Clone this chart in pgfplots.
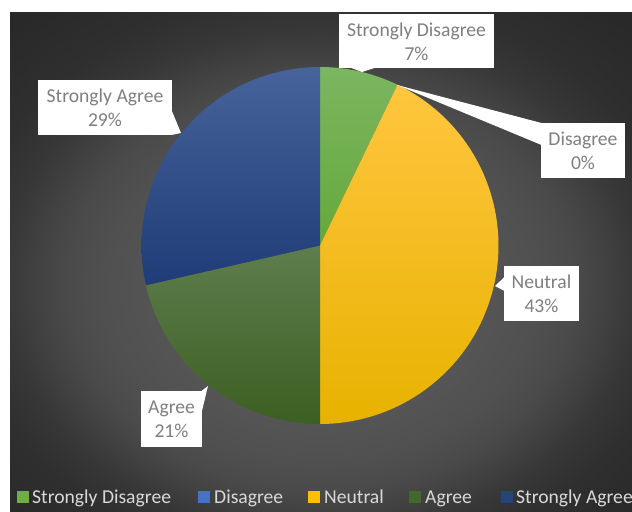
\documentclass[border=0pt]{standalone}
\usepackage{pgfplots}
\pgfplotsset{compat=1.18}
\usepackage{pgfplotstable}
\usepackage{fontspec}
\setmainfont{Carlito}

\definecolor{bgA}{HTML}{5A5A5A}
\definecolor{bgB}{HTML}{565656}
\definecolor{bgC}{HTML}{505050}
\definecolor{bgD}{HTML}{4A4A4A}
\definecolor{bgE}{HTML}{414141}
\definecolor{bgF}{HTML}{373737}
\definecolor{bgG}{HTML}{2F2F2F}
\definecolor{bgH}{HTML}{292929}
\pgfdeclareradialshading{bgshade}{\pgfpoint{0bp}{-4bp}}{color(0bp)=(bgA); color(12bp)=(bgB); color(17.5bp)=(bgC); color(20.5bp)=(bgD); color(23bp)=(bgE); color(25.5bp)=(bgF); color(29bp)=(bgG); color(35bp)=(bgH); color(50bp)=(bgH)}

\definecolor{sdT}{HTML}{7BB660}
\definecolor{sdM}{HTML}{70AD47}
\definecolor{sdB}{HTML}{66A83A}
\definecolor{nuT}{HTML}{FFC63F}
\definecolor{nuM}{HTML}{FFC000}
\definecolor{nuB}{HTML}{E8B200}
\definecolor{agT}{HTML}{5E7E4D}
\definecolor{agM}{HTML}{4A6E33}
\definecolor{agB}{HTML}{3C5F22}
\definecolor{saT}{HTML}{46639B}
\definecolor{saM}{HTML}{2B4A85}
\definecolor{saB}{HTML}{1F3C78}

\definecolor{legSD}{HTML}{70AD47}
\definecolor{legDi}{HTML}{4472C4}
\definecolor{legNe}{HTML}{FFC000}
\definecolor{legAg}{HTML}{43682B}
\definecolor{legSA}{HTML}{264478}
\definecolor{labgray}{HTML}{7F7F7F}
\definecolor{legtext}{HTML}{D9D9D9}

\pgfplotstableread{
label share
SD 7.142857
Dis 0
Neu 42.857143
Agr 21.428571
SAg 28.571429
}\piedata

\begin{document}
\begin{tikzpicture}
\useasboundingbox (0,0) rectangle (632bp,512bp);
\fill[white] (0,0) rectangle (632bp,512bp);
\path[shading=bgshade] (10bp,0bp) rectangle (632bp,499bp);
\pgfmathsetmacro\aA{90}
\pgfplotstablegetelem{0}{share}\of\piedata
\pgfmathsetmacro\aB{\aA-3.6*\pgfplotsretval}
\pgfplotstablegetelem{1}{share}\of\piedata
\pgfmathsetmacro\aC{\aB-3.6*\pgfplotsretval}
\pgfplotstablegetelem{2}{share}\of\piedata
\pgfmathsetmacro\aD{\aC-3.6*\pgfplotsretval}
\pgfplotstablegetelem{3}{share}\of\piedata
\pgfmathsetmacro\aE{\aD-3.6*\pgfplotsretval}
\pgfplotstablegetelem{4}{share}\of\piedata
\pgfmathsetmacro\aF{\aE-3.6*\pgfplotsretval}
\begin{axis}[x=1bp, y=1bp, xmin=0, xmax=632, ymin=0, ymax=512,
  scale only axis, hide axis, clip=false, at={(0,0)}, anchor=south west]
% slices
\addplot[draw=none, top color=sdT, middle color=sdM, bottom color=sdB,
  domain=\aB:\aA, samples=40, variable=\t]
  ({320+178.5*cos(\t)},{266.5+178.5*sin(\t)}) -- (axis cs:320,266.5) -- cycle;
\addplot[draw=none, top color=nuT, middle color=nuM, bottom color=nuB,
  domain=\aD:\aC, samples=100, variable=\t]
  ({320+178.5*cos(\t)},{266.5+178.5*sin(\t)}) -- (axis cs:320,266.5) -- cycle;
\addplot[draw=none, top color=agT, middle color=agM, bottom color=agB,
  domain=\aE:\aD, samples=60, variable=\t]
  ({320+178.5*cos(\t)},{266.5+178.5*sin(\t)}) -- (axis cs:320,266.5) -- cycle;
\addplot[draw=none, top color=saT, middle color=saM, bottom color=saB,
  domain=\aF:\aE, samples=70, variable=\t]
  ({320+178.5*cos(\t)},{266.5+178.5*sin(\t)}) -- (axis cs:320,266.5) -- cycle;
% data labels
\tikzset{lab/.style={text=labgray, align=center, inner sep=0pt, font=\fontsize{19.7}{24.5}\selectfont}}
\fill[white] (axis cs:339,444) rectangle (axis cs:494,498);
\fill[white] (axis cs:350,444.5) -- (axis cs:376,444.5) -- (axis cs:362,440) -- cycle;
\node[lab] at (axis cs:416.5,470) {Strongly Disagree\\7\%};
\fill[white] (axis cs:541,334) rectangle (axis cs:625,389);
\fill[white] (axis cs:397,427) -- (axis cs:541.5,389) -- (axis cs:541.5,367) -- cycle;
\node[lab] at (axis cs:583,361) {Disagree\\0\%};
\fill[white] (axis cs:504,191) rectangle (axis cs:579,246);
\fill[white] (axis cs:495,226) -- (axis cs:504.5,235) -- (axis cs:504.5,221) -- cycle;
\node[lab] at (axis cs:541.5,218) {Neutral\\43\%};
\fill[white] (axis cs:141,65) rectangle (axis cs:202,121);
\fill[white] (axis cs:201.5,121) -- (axis cs:201.5,99) -- (axis cs:208,126) -- cycle;
\node[lab] at (axis cs:171.5,92.5) {Agree\\21\%};
\fill[white] (axis cs:38,377) rectangle (axis cs:172,432);
\fill[white] (axis cs:171.5,402) -- (axis cs:171.5,377) -- (axis cs:181,379) -- cycle;
\node[lab] at (axis cs:105,404) {Strongly Agree\\29\%};
% legend
\tikzset{leg/.style={text=legtext, anchor=base west, inner sep=0pt, font=\fontsize{19.7}{24}\selectfont}}
\fill[legSD] (axis cs:17,9) rectangle (axis cs:29,21);
\node[leg] at (axis cs:32,9) {Strongly Disagree};
\fill[legDi] (axis cs:198,9) rectangle (axis cs:210,21);
\node[leg] at (axis cs:214,9) {Disagree};
\fill[legNe] (axis cs:308,9) rectangle (axis cs:320,21);
\node[leg] at (axis cs:324,9) {Neutral};
\fill[legAg] (axis cs:409,9) rectangle (axis cs:421,21);
\node[leg] at (axis cs:425,9) {Agree};
\fill[legSA] (axis cs:501,9) rectangle (axis cs:513,21);
\node[leg] at (axis cs:516,9) {Strongly Agree};
\end{axis}
\end{tikzpicture}
\end{document}
